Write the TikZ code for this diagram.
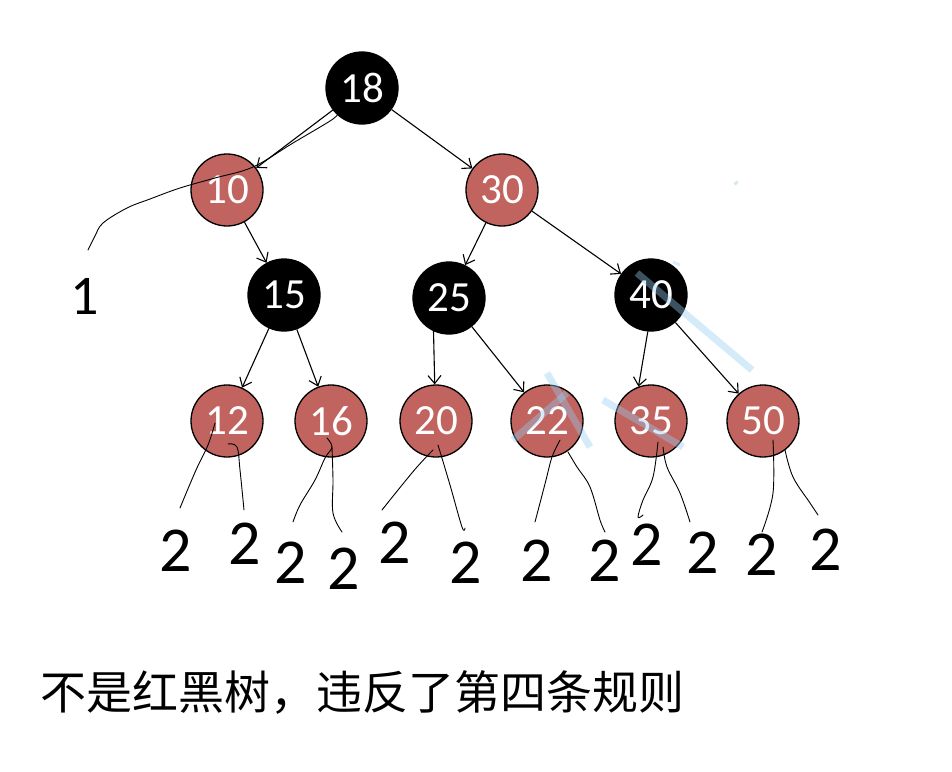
\documentclass[tikz,border=0pt]{standalone}
\usepackage{fontspec}
\setmainfont{Carlito}
\newfontfamily\cjk{Noto Sans CJK SC}
\usetikzlibrary{arrows.meta}
\definecolor{nodered}{RGB}{193,99,94}
\definecolor{wmblue}{RGB}{150,205,240}
\tikzset{
  rb/.style={circle,draw=black,line width=1.3pt,minimum size=72pt,inner sep=0pt,font=\fontsize{43}{43}\selectfont,text=white},
  rednode/.style={rb,fill=nodered},
  blacknode/.style={rb,fill=black},
  edge/.style={line width=1.1pt,-{Straight Barb[length=8pt,width=13pt,line width=1.1pt]}},
  scrib/.style={line width=0.9pt,line join=round,line cap=round},
  lbl/.style={font=\fontsize{64}{64}\selectfont,inner sep=0pt},
  wm/.style={wmblue,opacity=0.4,line width=7pt,line cap=butt}
}
\begin{document}
\begin{tikzpicture}[x=1pt,y=-1pt]
\useasboundingbox (0,0) rectangle (952,771);
\fill[white] (0,0) rectangle (952,771);
% nodes
\node[blacknode] (n18) at (362,88) {18};
\node[rednode] (n10) at (227,190) {10};
\node[rednode] (n30) at (502,190) {30};
\node[blacknode] (n15) at (284,295) {15};
\node[blacknode] (n25) at (449,298) {25};
\node[blacknode] (n40) at (651,295) {40};
\node[rednode] (n12) at (227,421) {12};
\node[rednode] (n16) at (331,421) {16};
\node[rednode] (n20) at (436,421) {20};
\node[rednode] (n22) at (547,421) {22};
\node[rednode] (n35) at (651,421) {35};
\node[rednode] (n50) at (763,421) {50};
% edges
\draw[edge] (n18) -- (n10);
\draw[edge] (n18) -- (n30);
\draw[edge] (n10) -- (n15);
\draw[edge] (n30) -- (n25);
\draw[edge] (n30) -- (n40);
\draw[edge] (n15) -- (n12);
\draw[edge] (n15) -- (n16);
\draw[edge] (n25.245) -- (n20.92);
\draw[edge] (n25) -- (n22);
\draw[edge] (n40.265) -- (n35.110);
\draw[edge] (n40) -- (n50);
% watermark strokes
\draw[wm] (637,273) -- (752,370);
\draw[wm] (603,400) -- (683,447);
\draw[wm] (547,373) -- (590,447);
\draw[wm] (513,440) -- (567,393);
\draw[wmblue,opacity=0.45,line width=4pt] (735,182) -- (737,184);
\draw[wmblue,opacity=0.35,line width=3pt] (673,262) -- (680,265);
% labels
\node[font=\fontsize{56}{56}\selectfont,inner sep=0pt] (one) at (85,296) {1};
\node[lbl] (l1) at (176,551) {2};
\node[lbl] (l2) at (245,544) {2};
\node[lbl] (l3) at (291,563) {2};
\node[lbl] (l4) at (344,569) {2};
\node[lbl] (l5) at (395,543) {2};
\node[lbl] (l6) at (466,563) {2};
\node[lbl] (l7) at (537,561) {2};
\node[lbl] (l8) at (605,561) {2};
\node[lbl] (l9) at (647,545) {2};
\node[lbl] (l10) at (703,553) {2};
\node[lbl] (l11) at (762,555) {2};
\node[lbl] (l12) at (826,550) {2};
% scribbles
\draw[scrib] plot[smooth,tension=0.6] coordinates {(88,250) (95,236) (103,223) (127,208) (150,199) (180,188) (215,178) (253,167) (293,143) (330,121) (338,114)};
\draw[scrib] plot[smooth,tension=0.6] coordinates {(215,423) (208,445) (196,470) (180,508)};
\draw[scrib] plot[smooth,tension=0.6] coordinates {(228,444) (237,447) (240,470) (244,510)};
\draw[scrib] plot[smooth,tension=0.6] coordinates {(327,438) (332,447) (325,458) (315,480) (300,505) (293,522)};
\draw[scrib] plot[smooth,tension=0.6] coordinates {(332,447) (333,480) (333,513) (342,532)};
\draw[scrib] plot[smooth,tension=0.6] coordinates {(433,450) (417,467) (398,490) (382,510)};
\draw[scrib] plot[smooth,tension=0.6] coordinates {(438,445) (450,485) (462,527) (465,528)};
\draw[scrib] plot[smooth,tension=0.6] coordinates {(560,440) (552,457) (546,480) (540,503) (535,522)};
\draw[scrib] plot[smooth,tension=0.6] coordinates {(568,452) (577,467) (590,487) (600,520) (605,532)};
\draw[scrib] plot[smooth,tension=0.6] coordinates {(658,442) (653,477) (643,500) (638,517) (643,515)};
\draw[scrib] plot[smooth,tension=0.6] coordinates {(663,447) (667,467) (680,493) (690,522)};
\draw[scrib] plot[smooth,tension=0.6] coordinates {(773,440) (773,493) (762,532)};
\draw[scrib] plot[smooth,tension=0.6] coordinates {(785,450) (793,477) (810,503) (818,515)};
% caption
\node[anchor=west,inner sep=0pt,font=\cjk\fontsize{46}{46}\selectfont] (cap) at (40,693) {不是红黑树，违反了第四条规则};
\end{tikzpicture}
\end{document}
